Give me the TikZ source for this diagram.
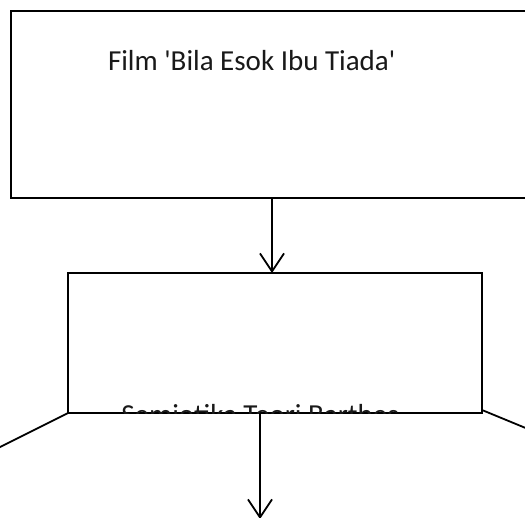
\documentclass[tikz,border=0pt]{standalone}
\usepackage{fontspec}
\setmainfont{Carlito}
\usetikzlibrary{arrows.meta}
\begin{document}
\begin{tikzpicture}[x=1pt,y=1pt,
  boxst/.style={draw=black,line width=1.8pt,rectangle,inner sep=0pt,outer sep=0pt},
  lbl/.style={inner sep=0pt,outer sep=0pt,text=black!90,font=\fontsize{29}{34}\selectfont},
  conn/.style={line width=1.8pt,draw=black},
  arr/.style={conn,-{Straight Barb[length=18pt,width=24pt,line width=1.8pt]}}]
\clip (0,0) rectangle (525,-517);
\useasboundingbox (0,0) rectangle (525,-517);
% top box (right edge runs off the picture)
\node[boxst,minimum width=529pt,minimum height=187pt,anchor=north west] (film) at (11,-11) {};
\node[lbl,anchor=base west] (filmtxt) at (108,-70) {Film \textquotesingle Bila Esok Ibu Tiada\textquotesingle};
% second box
\node[boxst,minimum width=414pt,minimum height=140pt,anchor=north west] (semio) at (68,-273) {};
\begin{scope}
\clip (68,-273) rectangle (482,-413);
\node[lbl,anchor=base] (semiotxt) at (260,-424) {Semiotika Teori Barthes};
\end{scope}
% connectors
\coordinate (xa) at (272,0);
\coordinate (xb) at (260,0);
\coordinate (leftend) at (-12,-453);
\coordinate (rightstart) at (482,-410);
\coordinate (rightend) at (545,-436);
\coordinate (bottomend) at (260,-519);
\draw[arr] (film.south -| xa) -- (semio.north -| xa);
\draw[arr] (semio.south -| xb) -- (bottomend);
\draw[conn] (semio.south west) -- (leftend);
\draw[conn] (rightstart) -- (rightend);
\end{tikzpicture}
\end{document}
